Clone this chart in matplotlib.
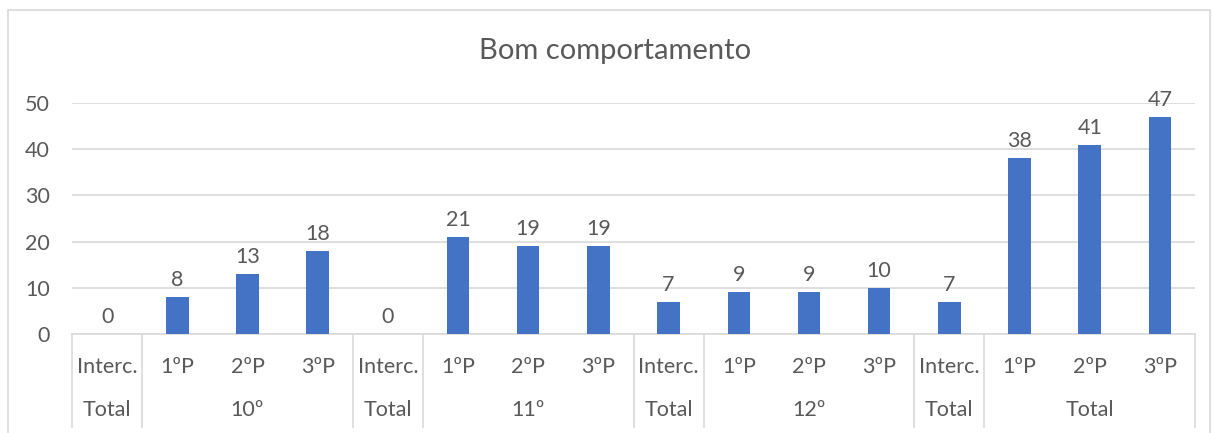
import matplotlib
matplotlib.use("Agg")
import matplotlib.pyplot as plt
from matplotlib.patches import Rectangle
from matplotlib.lines import Line2D

categories = ["Interc.", "1ºP", "2ºP", "3ºP",
              "Interc.", "1ºP", "2ºP", "3ºP",
              "Interc.", "1ºP", "2ºP", "3ºP",
              "Interc.", "1ºP", "2ºP", "3ºP"]
values = [0, 8, 13, 18, 0, 21, 19, 19, 7, 9, 9, 10, 7, 38, 41, 47]
# outer groups: (label, number of categories spanned)
groups = [("Total", 1), ("10º", 3), ("Total", 1), ("11º", 3),
          ("Total", 1), ("12º", 3), ("Total", 1), ("Total", 3)]
title = "Bom comportamento"
yticks = [0, 10, 20, 30, 40, 50]

plt.rcParams['font.family'] = ['Lato', 'DejaVu Sans']
TXT = "#595959"
GRID = "#D9D9D9"
BAR = "#4472C4"
FS = 15.5

W, H = 1213, 433
fig = plt.figure(figsize=(W / 100, H / 100), dpi=100)
left, right, top, bottom = 72, 1195, 103, 334
ax = fig.add_axes([left / W, 1 - bottom / H, (right - left) / W, (bottom - top) / H])

n = len(categories)
x = list(range(n))
ax.bar(x, values, width=0.32, color=BAR, zorder=3)
ax.set_xlim(-0.5, n - 0.5)
ax.set_ylim(0, 50)
ax.set_yticks(yticks)
ax.yaxis.grid(True, color=GRID, linewidth=1.2, zorder=0)
ax.tick_params(axis='y', length=0, labelsize=FS, colors=TXT, pad=16)
ax.set_xticks([])
for s in ax.spines.values():
    s.set_visible(False)

for xi, v in zip(x, values):
    ax.annotate(str(v), (xi, v), xytext=(0, 5), textcoords='offset points',
                ha='center', va='bottom', fontsize=FS, color=TXT,
                annotation_clip=False, clip_on=False)

# category labels (row 1) and group labels (row 2)
trans = ax.get_xaxis_transform()
row1_y = -(367 - bottom) / (bottom - top)
row2_y = -(410 - bottom) / (bottom - top)
sep_bottom = -(427 - bottom) / (bottom - top)
for xi, c in zip(x, categories):
    ax.text(xi, row1_y, c, transform=trans, ha='center', va='center',
            fontsize=FS, color=TXT, clip_on=False)

# baseline
ax.add_line(Line2D([-0.5, n - 0.5], [0, 0], transform=trans, color=GRID,
                   linewidth=1.2, clip_on=False, zorder=2))
pos = -0.5
ax.add_line(Line2D([pos, pos], [0, sep_bottom], transform=trans, color=GRID,
                   linewidth=1.2, clip_on=False))
for label, span in groups:
    center = pos + span / 2
    ax.text(center, row2_y, label, transform=trans, ha='center', va='center',
            fontsize=FS, color=TXT, clip_on=False)
    pos += span
    ax.add_line(Line2D([pos, pos], [0, sep_bottom], transform=trans, color=GRID,
                       linewidth=1.2, clip_on=False))

fig.text(615 / W, 1 - 51 / H, title, ha='center', va='center', fontsize=21,
         color=TXT)

# chart area border
fig.add_artist(Rectangle((8 / W, -0.1), (1210 - 8) / W, 1.1 - 10 / H,
                         transform=fig.transFigure, fill=False,
                         edgecolor=GRID, linewidth=1.2))

fig.savefig("out.png", dpi=100, facecolor="white")
